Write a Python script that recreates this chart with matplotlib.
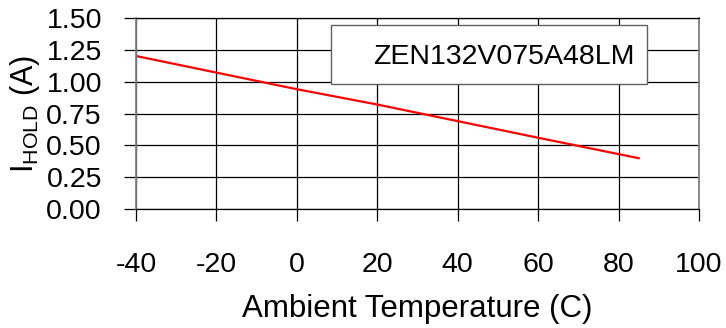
import matplotlib
matplotlib.use('Agg')
import matplotlib.pyplot as plt

plt.rcParams['font.family'] = ['Liberation Sans', 'DejaVu Sans']
plt.rcParams['mathtext.fontset'] = 'custom'
plt.rcParams['mathtext.rm'] = 'Liberation Sans'
plt.rcParams['axes.unicode_minus'] = False

# data
temps = [-40, -20, 0, 20, 40, 60, 85]
i_hold = [1.20, 1.07, 0.94, 0.82, 0.69, 0.56, 0.40]
part_name = 'ZEN132V075A48LM'

x_ticks = [-40, -20, 0, 20, 40, 60, 80, 100]
y_ticks = [0.00, 0.25, 0.50, 0.75, 1.00, 1.25, 1.50]

fig = plt.figure(figsize=(7.26, 3.28), dpi=100)
ax = fig.add_axes([136 / 726, 1 - 209.3 / 328, (699 - 136) / 726, (209.3 - 17.7) / 328])

ax.plot(temps, i_hold, color='#ff0000', linewidth=1.6, label=part_name)

ax.set_xlim(-40, 100)
ax.set_ylim(0, 1.5)
ax.set_xticks(x_ticks)
ax.set_yticks(y_ticks)
ax.set_yticklabels([f'{v:.2f}' for v in y_ticks])
ax.grid(True, color='black', linewidth=0.9)
ax.set_axisbelow(True)

ax.tick_params(axis='both', direction='out', length=8.5, width=0.9, color='black',
               labelsize=20.5)
ax.tick_params(axis='x', pad=22)
ax.tick_params(axis='y', pad=16)

for side in ['left', 'right']:
    ax.spines[side].set_color('#808080')
    ax.spines[side].set_linewidth(1.3)
for side in ['top', 'bottom']:
    ax.spines[side].set_color('black')
    ax.spines[side].set_linewidth(0.9)

ax.set_xlabel('Ambient Temperature (C)', fontsize=22.5, labelpad=12)
ax.set_ylabel(r'I$_{\mathrm{HOLD}}$ (A)', fontsize=22, labelpad=3)

leg = ax.legend(loc='upper right', bbox_to_anchor=(647 / 726, 1 - 25 / 328),
                bbox_transform=fig.transFigure, fontsize=20.5, handlelength=0.7,
                handleheight=1.45, handletextpad=0.3, fancybox=False, framealpha=1,
                edgecolor='#606060', borderpad=0.45, borderaxespad=0)
for h in leg.legend_handles:
    h.set_visible(False)
leg.get_frame().set_linewidth(1.0)

fig.savefig('out.png', dpi=100)
